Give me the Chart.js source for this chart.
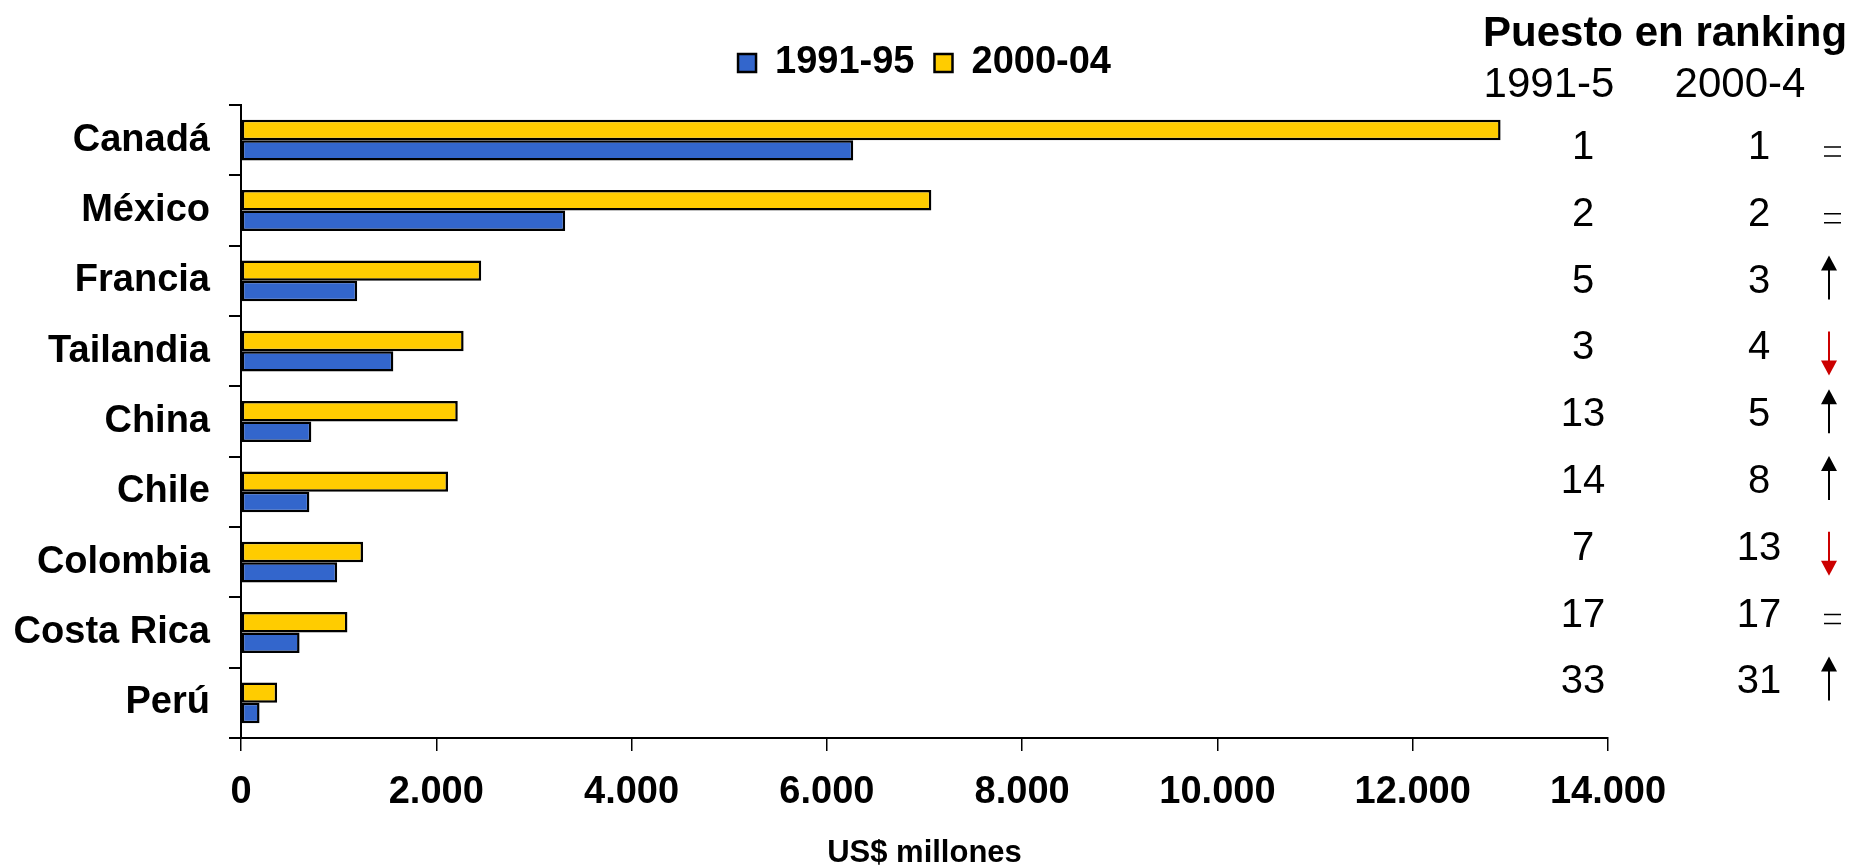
<!DOCTYPE html>
<html>
<head>
<meta charset="utf-8">
<script src="https://cdn.jsdelivr.net/npm/chart.js@4.4.0/dist/chart.umd.min.js"></script>
<style>
  body { margin: 0; background: #fff; }
</style>
</head>
<body>
<canvas id="myChart" width="1854" height="867"></canvas>
<script>
var paises = ['Canadá', 'México', 'Francia', 'Tailandia', 'China', 'Chile', 'Colombia', 'Costa Rica', 'Perú'];
var inversion9195 = [6270, 3320, 1190, 1560, 720, 700, 985, 600, 190];
var inversion0004 = [12900, 7070, 2460, 2280, 2220, 2120, 1250, 1090, 370];
var puesto9195 = [1, 2, 5, 3, 13, 14, 7, 17, 33];
var puesto0004 = [1, 2, 3, 4, 5, 8, 13, 17, 31];
var ejeX = [0, 2000, 4000, 6000, 8000, 10000, 12000, 14000];

var FONT = '"Liberation Sans", Arial, sans-serif';
Chart.defaults.font.family = FONT;
Chart.defaults.color = '#000';

function miles(v) {
  return v.toString().replace(/\B(?=(\d{3})+(?!\d))/g, '.');
}

// flecha: cola en y1, punta en y2
function flecha(ctx, x, y1, y2, color) {
  var dir = y2 > y1 ? 1 : -1;
  ctx.strokeStyle = color;
  ctx.fillStyle = color;
  ctx.lineWidth = 2;
  ctx.beginPath();
  ctx.moveTo(x, y1);
  ctx.lineTo(x, y2 - dir * 13);
  ctx.stroke();
  ctx.beginPath();
  ctx.moveTo(x, y2);
  ctx.lineTo(x - 8, y2 - dir * 15);
  ctx.lineTo(x + 8, y2 - dir * 15);
  ctx.closePath();
  ctx.fill();
}

/*~~~~~~~~~~~~~~ tabla de ranking a la derecha ~~~~~~~~~~~~~~*/
var rankingPlugin = {
  id: 'ranking',
  afterDraw: function (chart) {
    var ctx = chart.ctx;
    ctx.save();
    ctx.fillStyle = '#000';
    ctx.textBaseline = 'middle';
    ctx.textAlign = 'left';
    ctx.font = 'bold 42px ' + FONT;
    ctx.fillText('Puesto en ranking', 1483, 34);
    ctx.font = '42px ' + FONT;
    ctx.textAlign = 'center';
    ctx.fillText('1991-5', 1549, 85);
    ctx.fillText('2000-4', 1740, 85);
    ctx.font = '40px ' + FONT;
    for (var i = 0; i < puesto9195.length; i++) {
      var y = 148 + i * 66.8;
      ctx.fillStyle = '#000';
      ctx.fillText(puesto9195[i], 1583, y);
      ctx.fillText(puesto0004[i], 1759, y);
      if (puesto0004[i] < puesto9195[i]) {
        flecha(ctx, 1829, y + 18, y - 26, '#000');
      } else if (puesto0004[i] > puesto9195[i]) {
        flecha(ctx, 1829, y - 17, y + 27, '#CC0000');
      } else {
        ctx.strokeStyle = '#000';
        ctx.lineWidth = 1.5;
        ctx.beginPath();
        ctx.moveTo(1824, y - 1); ctx.lineTo(1841, y - 1);
        ctx.moveTo(1824, y + 8); ctx.lineTo(1841, y + 8);
        ctx.stroke();
      }
    }
    ctx.restore();
  }
};

var ctx = document.getElementById('myChart').getContext('2d');
var myChart = new Chart(ctx, {
  type: 'bar',
  data: {
    labels: paises,
    datasets: [{
      label: '2000-04',
      data: inversion0004,
      backgroundColor: '#FFCC00',
      borderColor: '#000',
      borderWidth: 2.5,
      borderSkipped: false
    }, {
      label: '1991-95',
      data: inversion9195,
      backgroundColor: '#3366CC',
      borderColor: '#000',
      borderWidth: 2.5,
      borderSkipped: false
    }]
  },
  options: {
    indexAxis: 'y',
    responsive: false,
    animation: false,
    categoryPercentage: 0.58,
    barPercentage: 1.0,
    layout: { padding: { top: 24, right: 246, bottom: 0, left: 0 } },
    plugins: {
      legend: {
        position: 'top',
        fullSize: false,
        reverse: true,
        labels: {
          boxWidth: 18,
          boxHeight: 18,
          padding: 20,
          color: '#000',
          font: { size: 38, weight: 'bold' }
        }
      },
      // espacio entre leyenda y grafico
      subtitle: {
        display: true,
        text: '',
        weight: 500,
        padding: 0,
        font: { size: 13, lineHeight: 1 }
      },
      tooltip: { enabled: false }
    },
    scales: {
      x: {
        min: ejeX[0],
        max: ejeX[ejeX.length - 1],
        afterBuildTicks: function (scale) {
          scale.ticks = ejeX.map(function (v) { return { value: v }; });
        },
        afterFit: function (scale) { scale.height = 129; },
        grid: { drawOnChartArea: false, tickLength: 13, color: '#000', lineWidth: 1.5 },
        border: { color: '#000', width: 2 },
        ticks: {
          padding: 19,
          maxRotation: 0,
          autoSkip: false,
          color: '#000',
          font: { size: 38, weight: 'bold' },
          callback: function (v) { return miles(v); }
        },
        title: {
          display: true,
          text: 'US$ millones',
          color: '#000',
          font: { size: 31, weight: 'bold', lineHeight: 0.9 },
          padding: { top: 0, bottom: 0 }
        }
      },
      y: {
        afterFit: function (scale) { scale.width = 241; },
        grid: { drawOnChartArea: false, tickLength: 12, color: '#000', lineWidth: 2 },
        border: { color: '#000', width: 2 },
        ticks: {
          padding: 19,
          color: '#000',
          font: { size: 38, weight: 'bold' }
        }
      }
    }
  },
  plugins: [rankingPlugin]
});
</script>
</body>
</html>
